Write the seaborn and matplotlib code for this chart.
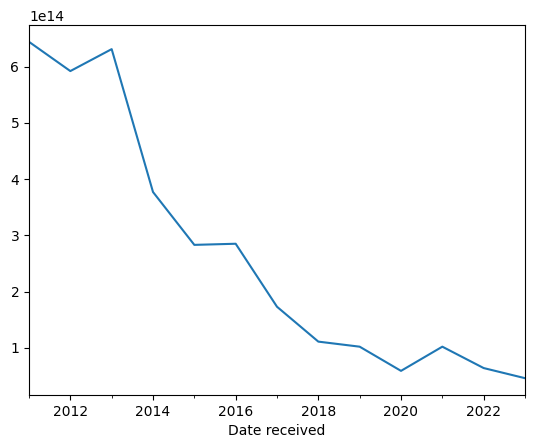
import pandas as pd
import matplotlib
matplotlib.use('Agg')
import matplotlib.pyplot as plt
import seaborn as sns
from matplotlib.ticker import MultipleLocator

# yearly totals (units of 1e14)
years = [2011, 2012, 2013, 2014, 2015, 2016, 2017, 2018, 2019, 2020, 2021, 2022, 2023]
totals = [6.44, 5.92, 6.31, 3.77, 2.83, 2.85, 1.73, 1.11, 1.02, 0.59, 1.02, 0.64, 0.46]

df = pd.DataFrame({'Date received': years, 'total': [v * 1e14 for v in totals]})

fig = plt.figure(figsize=(5.34, 4.48), dpi=100)
ax = fig.add_axes([29 / 534, 53 / 448, 496 / 534, 370 / 448])

sns.lineplot(data=df, x='Date received', y='total', ax=ax, color='#1f77b4')

ax.set_xlim(2011, 2023)
ax.xaxis.set_major_locator(MultipleLocator(2))
ax.xaxis.set_minor_locator(MultipleLocator(1))
ax.set_ylabel('')
ax.set_xlabel('Date received')

plt.savefig('out.png', dpi=100)
